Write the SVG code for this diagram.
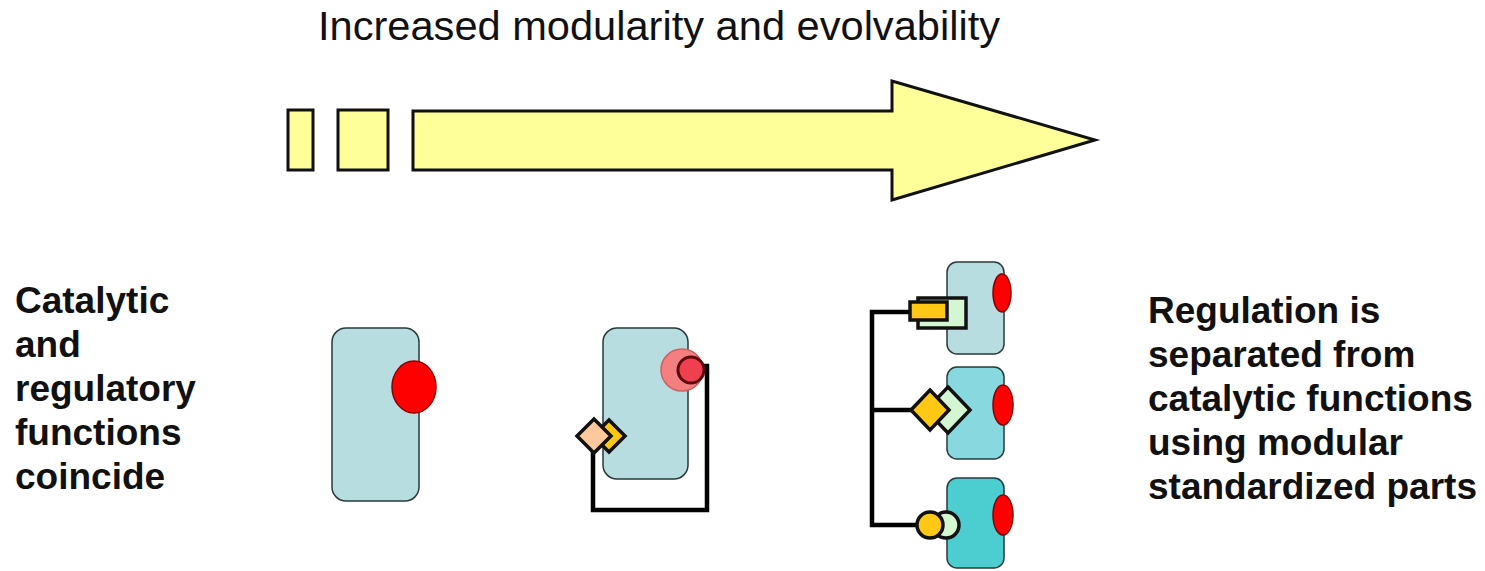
<svg xmlns="http://www.w3.org/2000/svg" width="1485" height="571" viewBox="0 0 1485 571">
<style>
.bg{fill:#ffffff}
.ttl{font-family:"Liberation Sans",Arial,sans-serif;font-size:41px;fill:#111}
.lbl{font-family:"Liberation Sans",Arial,sans-serif;font-size:37px;font-weight:bold;fill:#111}
.arr{fill:#ffff99;stroke:#111;stroke-width:3;stroke-linejoin:miter}
.cell{stroke:#2a3a3a;stroke-width:1.5}
.c1{fill:#b8dde0}
.c2{fill:#88d8e0}
.c3{fill:#4ccdd0}
.site{fill:#ff0000;stroke:#8a0000;stroke-width:1.5}
.wire{fill:none;stroke:#000;stroke-width:4.5;stroke-linejoin:miter}
.reg{stroke:#111;stroke-width:3.5}
.yel{fill:#ffc814}
.grn{fill:#d2f7d2}
.pch{fill:#fcc89c}
</style>
<rect class="bg" x="0" y="0" width="1485" height="571"/>
<g id="title">
<text class="ttl" x="318" y="40" textLength="682" lengthAdjust="spacingAndGlyphs">Increased modularity and evolvability</text>
</g>
<g id="progress-arrow">
<rect class="arr" x="288" y="110" width="25" height="60"/>
<rect class="arr" x="338" y="110" width="50" height="60"/>
<polygon class="arr" points="413,111 892,111 892,81 1095,140 892,200 892,170 413,170"/>
</g>
<g id="left-label">
<text class="lbl" x="15" y="313">Catalytic</text>
<text class="lbl" x="15" y="357">and</text>
<text class="lbl" x="15" y="401">regulatory</text>
<text class="lbl" x="15" y="445">functions</text>
<text class="lbl" x="15" y="489">coincide</text>
</g>
<g id="right-label">
<text class="lbl" x="1148" y="323">Regulation is</text>
<text class="lbl" x="1148" y="367">separated from</text>
<text class="lbl" x="1148" y="411">catalytic functions</text>
<text class="lbl" x="1148" y="455">using modular</text>
<text class="lbl" x="1148" y="499">standardized parts</text>
</g>
<g id="connectors">
<polyline class="wire" points="682,366 707,366 707,510 593,510 593,450"/>
<polyline class="wire" points="912,312 872,312 872,525 917,525"/>
<line class="wire" x1="872" y1="410" x2="912" y2="410"/>
</g>
<g id="cell-1">
<rect class="cell c1" x="332" y="328" width="87" height="173" rx="14"/>
<ellipse class="site" cx="414" cy="387" rx="22" ry="26"/>
</g>
<g id="cell-2">
<rect class="cell c1" x="603" y="328" width="85" height="151" rx="14"/>
<circle cx="682" cy="370" r="21" fill="#f47f80" stroke="#d06060" stroke-width="1.5"/>
<circle cx="691" cy="370" r="13" fill="#f04050" stroke="#5a0a10" stroke-width="3"/>
<polygon class="reg yel" points="609,420 625,436 609,452 593,436"/>
<polygon class="reg pch" points="594,419 611,436 594,453 577,436"/>
</g>
<g id="cell-3a">
<rect class="cell c1" x="947" y="262" width="57" height="92" rx="10"/>
<ellipse class="site" cx="1002" cy="293" rx="9" ry="19"/>
<rect class="reg grn" x="918" y="298" width="48" height="30"/>
<rect class="reg yel" x="910" y="302" width="37" height="18"/>
</g>
<g id="cell-3b">
<rect class="cell c2" x="947" y="367" width="57" height="92" rx="10"/>
<ellipse class="site" cx="1003" cy="405" rx="10" ry="20"/>
<polygon class="reg grn" points="948,387 970,410 948,433 926,410"/>
<polygon class="reg yel" points="930,390 949,410 930,430 911,410"/>
</g>
<g id="cell-3c">
<rect class="cell c3" x="947" y="478" width="57" height="90" rx="10"/>
<ellipse class="site" cx="1003" cy="515" rx="10" ry="20"/>
<circle class="reg grn" cx="946" cy="525" r="13"/>
<circle class="reg yel" cx="930" cy="525" r="13"/>
</g>
</svg>
